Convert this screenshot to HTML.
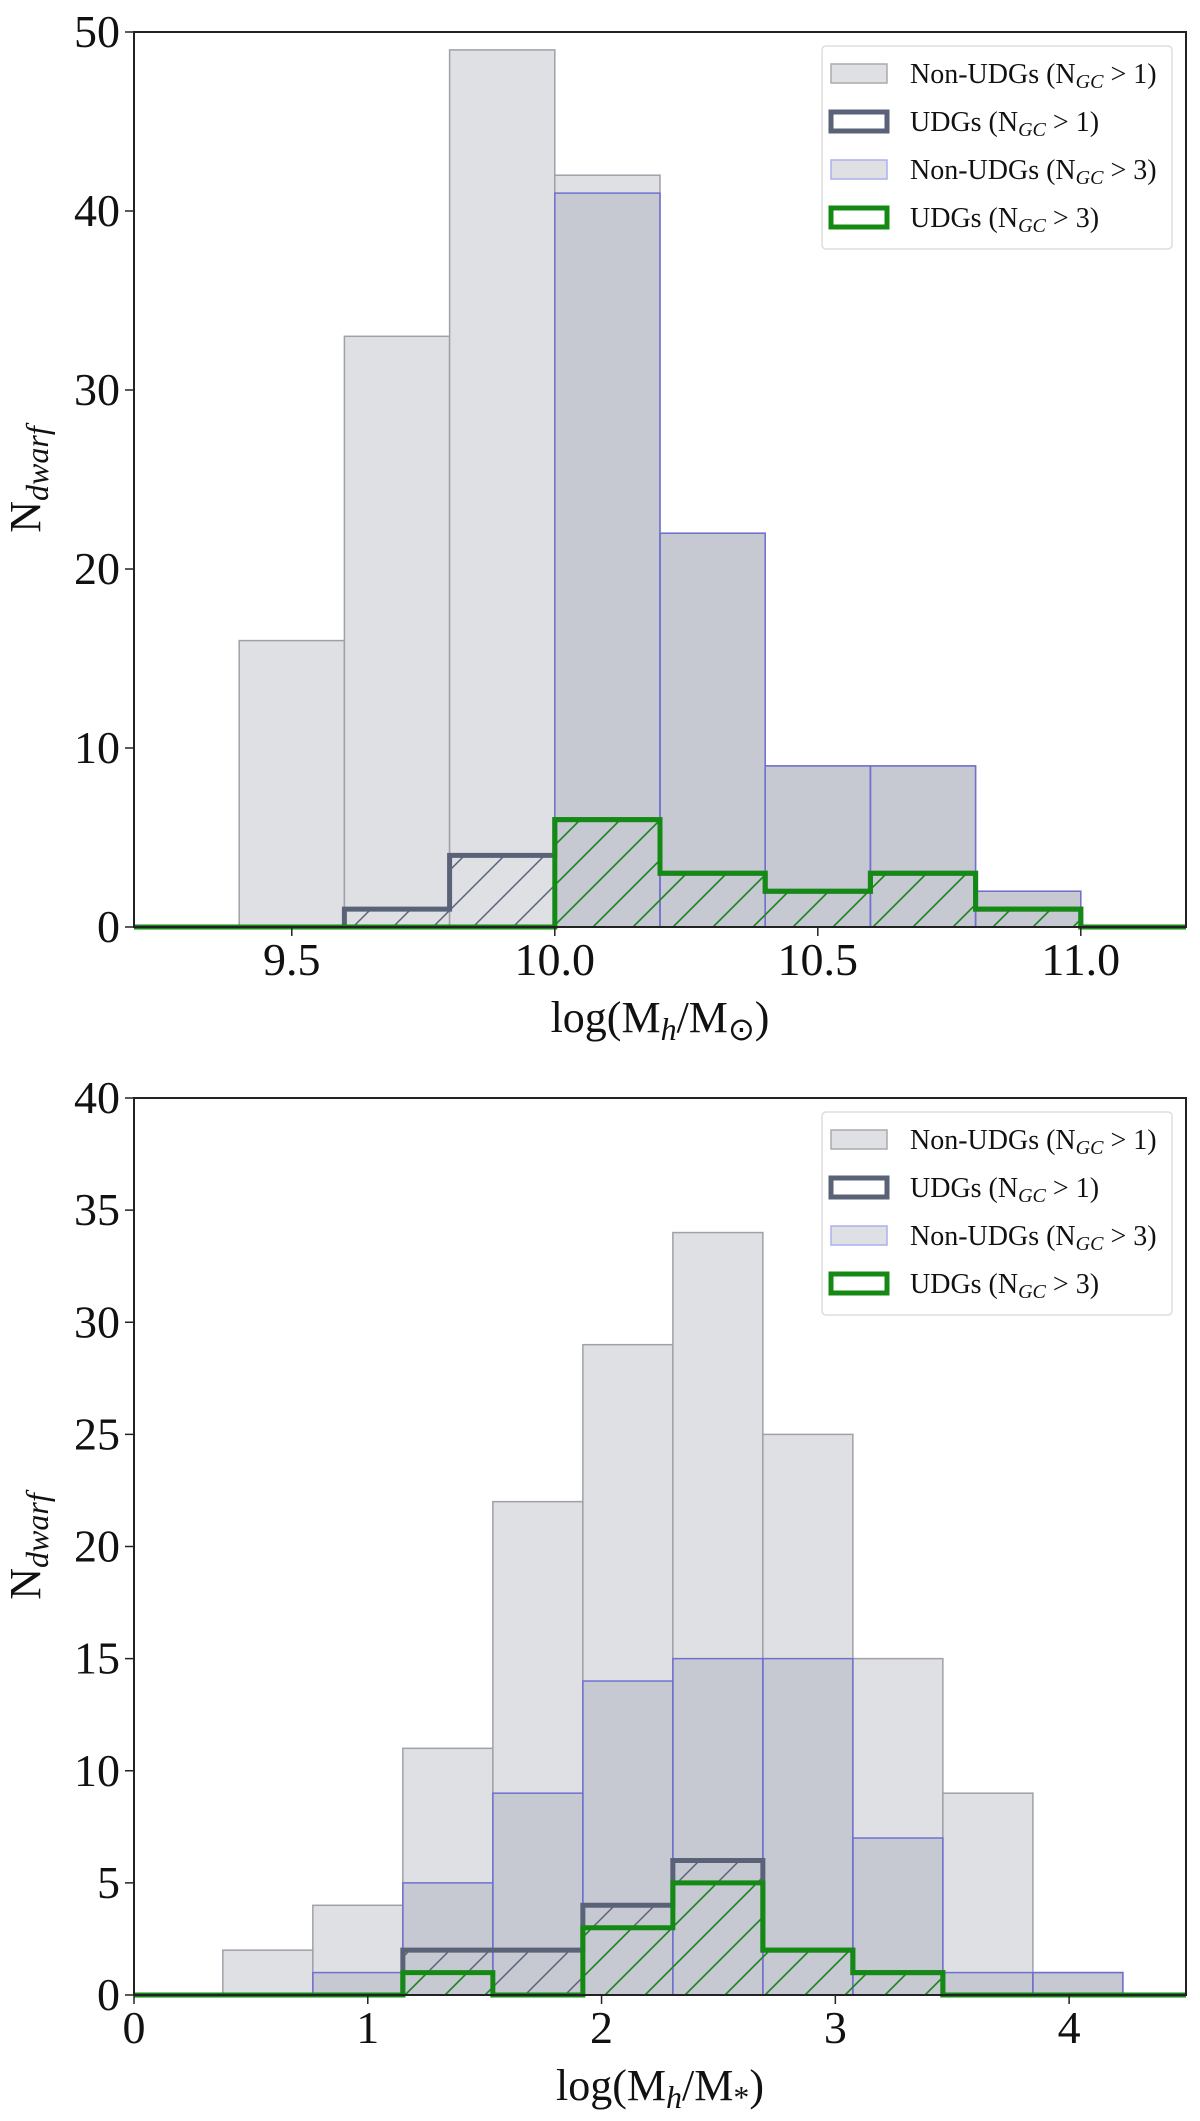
<!DOCTYPE html>
<html><head><meta charset="utf-8"><style>
html,body{margin:0;padding:0;background:#fff;}
svg{display:block;font-family:"Liberation Serif",serif;}
</style></head><body>
<svg id="fig" width="1200" height="2121" viewBox="0 0 1200 2121" xmlns="http://www.w3.org/2000/svg">
<defs>
<pattern id="hatchGray" patternUnits="userSpaceOnUse" width="40" height="40">
<path d="M0,40 L40,0 M-8,8 L8,-8 M32,48 L48,32" stroke="#5a6278" stroke-width="1.5"/>
</pattern>
<pattern id="hatchGreen" patternUnits="userSpaceOnUse" width="40" height="40">
<path d="M0,40 L40,0 M-8,8 L8,-8 M32,48 L48,32" stroke="#148a14" stroke-width="1.5"/>
</pattern>
</defs>
</svg>
<script>
// ---- top panel data ----
const topEdgeStart = 9.4;
const topBinWidth = 0.2;
const topNonUdg1 = [16, 33, 49, 42, 22, 9, 9, 2];
const topNonUdg3 = [0, 0, 0, 41, 22, 9, 9, 2];
const topUdg1 = [0, 1, 4, 6, 3, 2, 3, 1];
const topUdg3 = [0, 0, 0, 6, 3, 2, 3, 1];
const topXTicks = [9.5, 10.0, 10.5, 11.0];
const topXTickLabels = ["9.5", "10.0", "10.5", "11.0"];
const topYTicks = [0, 10, 20, 30, 40, 50];
// ---- bottom panel data ----
const botEdgeStart = 0.38;
const botBinWidth = 0.385;
const botNonUdg1 = [2, 4, 11, 22, 29, 34, 25, 15, 9, 1];
const botNonUdg3 = [0, 1, 5, 9, 14, 15, 15, 7, 1, 1];
const botUdg1 = [0, 0, 2, 2, 4, 6, 2, 1, 0, 0];
const botUdg3 = [0, 0, 1, 0, 3, 5, 2, 1, 0, 0];
const botXTicks = [0, 1, 2, 3, 4];
const botXTickLabels = ["0", "1", "2", "3", "4"];
const botYTicks = [0, 5, 10, 15, 20, 25, 30, 35, 40];

const NS = "http://www.w3.org/2000/svg";
const svg = document.getElementById("fig");
function mk(tag, attrs, parent) {
  const e = document.createElementNS(NS, tag);
  for (const k in attrs) e.setAttribute(k, attrs[k]);
  (parent || svg).appendChild(e);
  return e;
}

function panel(cfg) {
  const g = mk("g", {});
  
  
  const L = 134, R = 1186, T = cfg.top, B = cfg.bottom;
  const xs = v => L + (v - cfg.xmin) / (cfg.xmax - cfg.xmin) * (R - L);
  const ys = v => B - v / cfg.ymax * (B - T);
  const edges = cfg.n1.map((_, i) => cfg.e0 + i * cfg.w);

  cfg.n1.forEach((v, i) => {
    if (v <= 0) return;
    const x0 = xs(edges[i]), x1 = xs(edges[i] + cfg.w);
    const r = mk("rect", {x: x0, y: ys(v), width: x1 - x0, height: B - ys(v), fill: "#dfe0e4", stroke: "#a0a0a8", "stroke-width": 1.5}, g);
    
    
  });
  cfg.n3.forEach((v, i) => {
    if (v <= 0) return;
    const x0 = xs(edges[i]), x1 = xs(edges[i] + cfg.w);
    const r = mk("rect", {x: x0, y: ys(v), width: x1 - x0, height: B - ys(v), fill: "rgba(100,110,140,0.2)", stroke: "#7070d0", "stroke-width": 1.5}, g);
    
    
  });
  function step(vals, color, hatch, nm) {
    let d = "M" + L + "," + B;
    vals.forEach((v, i) => {
      const x0 = xs(edges[i]), x1 = xs(edges[i] + cfg.w);
      d += " L" + x0 + "," + ys(v) + " L" + x1 + "," + ys(v);
    });
    d += " L" + xs(edges[vals.length - 1] + cfg.w) + "," + B + " L" + R + "," + B;
    vals.forEach((v, i) => {
      if (v <= 0) return;
      const x0 = xs(edges[i]), x1 = xs(edges[i] + cfg.w);
      const h = mk("rect", {x: x0, y: ys(v), width: x1 - x0, height: B - ys(v), fill: hatch}, g);
      
      
    });
    const p = mk("path", {d: d, fill: "none", stroke: color, "stroke-width": 5, "stroke-linejoin": "miter"}, g);
    
    
  }
  step(cfg.u1, "#5a6278", "url(#hatchGray)", "step-udg-ngc1");
  step(cfg.u3, "#148a14", "url(#hatchGreen)", "step-udg-ngc3");

  const fr = mk("rect", {x: L, y: T, width: R - L, height: B - T, fill: "none", stroke: "#222", "stroke-width": 2}, g);
  
  
  cfg.xt.forEach((v, i) => {
    mk("line", {x1: xs(v), x2: xs(v), y1: B, y2: B + 9, stroke: "#222", "stroke-width": 1.5}, g);
    const t = mk("text", {x: xs(v), y: B + 48, "font-size": 46, "text-anchor": "middle", fill: "#111"}, g);
    t.textContent = cfg.xtl[i];
    
    
  });
  cfg.yt.forEach(v => {
    mk("line", {x1: L - 9, x2: L, y1: ys(v), y2: ys(v), stroke: "#222", "stroke-width": 1.5}, g);
    const t = mk("text", {x: L - 14, y: ys(v) + 15, "font-size": 46, "text-anchor": "end", fill: "#111"}, g);
    t.textContent = String(v);
    
    
  });
  const xl = mk("text", {x: 660, y: B + 105, "font-size": 44, "text-anchor": "middle", fill: "#111"}, g);
  xl.innerHTML = 'log(M<tspan font-style="italic" font-size="32" dy="8">h</tspan><tspan dy="-8">/M</tspan><tspan font-size="32" dy="8">' + cfg.sub + '</tspan><tspan dy="-8">)</tspan>';
  
  
  const cy = (T + B) / 2;
  const yl = mk("text", {x: 0, y: 0, "font-size": 44, "text-anchor": "middle", fill: "#111", transform: "translate(40," + cy + ") rotate(-90)"}, g);
  yl.innerHTML = 'N<tspan font-style="italic" font-size="32" dy="8">dwarf</tspan>';
  
  

  const lg = mk("g", {}, g);
  
  
  mk("rect", {x: 822, y: T + 14, width: 350, height: 203, rx: 4, fill: "#fff", stroke: "#ddd", "stroke-width": 1.5}, lg);
  const entries = [
    {name: "Non-UDGs", n: "1", fill: "#dfe0e4", stroke: "#aaa", sw: 1.5},
    {name: "UDGs", n: "1", fill: "#fff", stroke: "#5a6278", sw: 5},
    {name: "Non-UDGs", n: "3", fill: "#dfe0e4", stroke: "#aab0ee", sw: 1.5},
    {name: "UDGs", n: "3", fill: "#fff", stroke: "#148a14", sw: 5}
  ];
  entries.forEach((e, i) => {
    const y = T + 41 + i * 48;
    const it = mk("g", {}, lg);
    
    
    mk("rect", {x: 831, y: y - 9, width: 56, height: 19, fill: e.fill, stroke: e.stroke, "stroke-width": e.sw}, it);
    const t = mk("text", {x: 910, y: y + 10, "font-size": 28, fill: "#111"}, it);
    t.innerHTML = e.name + ' (N<tspan font-style="italic" font-size="20" dy="5">GC</tspan><tspan dy="-5"> &gt; ' + e.n + ')</tspan>';
  });
}

panel({name: "top-histogram", top: 32, bottom: 927, xmin: 9.2, xmax: 11.2, ymax: 50,
  e0: topEdgeStart, w: topBinWidth, n1: topNonUdg1, n3: topNonUdg3, u1: topUdg1, u3: topUdg3,
  xt: topXTicks, xtl: topXTickLabels, yt: topYTicks, sub: "⊙"});
panel({name: "bottom-histogram", top: 1098, bottom: 1995, xmin: 0, xmax: 4.5, ymax: 40,
  e0: botEdgeStart, w: botBinWidth, n1: botNonUdg1, n3: botNonUdg3, u1: botUdg1, u3: botUdg3,
  xt: botXTicks, xtl: botXTickLabels, yt: botYTicks, sub: "*"});
</script>
</body></html>
